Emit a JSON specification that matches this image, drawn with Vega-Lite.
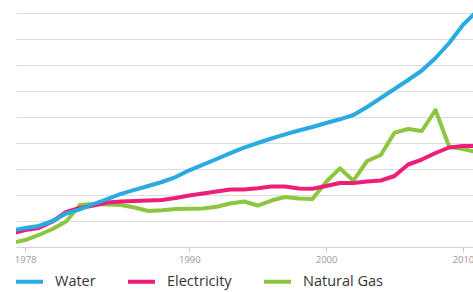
{
  "$schema": "https://vega.github.io/schema/vega-lite/v6.json",
  "width": 457,
  "height": 247,
  "autosize": {"type": "none"},
  "padding": {"left": 16, "top": 0, "right": 0, "bottom": 45},
  "background": "white",
  "config": {"view": {"stroke": null}},
  "data": {"values": [
    {"year":1977,"series":"Natural Gas","value":0.154},{"year":1978,"series":"Natural Gas","value":0.269},{"year":1979,"series":"Natural Gas","value":0.462},{"year":1980,"series":"Natural Gas","value":0.692},{"year":1981,"series":"Natural Gas","value":0.981},{"year":1982,"series":"Natural Gas","value":1.615},{"year":1983,"series":"Natural Gas","value":1.654},{"year":1984,"series":"Natural Gas","value":1.635},{"year":1985,"series":"Natural Gas","value":1.615},{"year":1986,"series":"Natural Gas","value":1.519},{"year":1987,"series":"Natural Gas","value":1.385},{"year":1988,"series":"Natural Gas","value":1.412},{"year":1989,"series":"Natural Gas","value":1.462},{"year":1990,"series":"Natural Gas","value":1.469},{"year":1991,"series":"Natural Gas","value":1.481},{"year":1992,"series":"Natural Gas","value":1.546},{"year":1993,"series":"Natural Gas","value":1.673},{"year":1994,"series":"Natural Gas","value":1.75},{"year":1995,"series":"Natural Gas","value":1.596},{"year":1996,"series":"Natural Gas","value":1.788},{"year":1997,"series":"Natural Gas","value":1.923},{"year":1998,"series":"Natural Gas","value":1.865},{"year":1999,"series":"Natural Gas","value":1.846},{"year":2000,"series":"Natural Gas","value":2.5},{"year":2001,"series":"Natural Gas","value":3.027},{"year":2002,"series":"Natural Gas","value":2.55},{"year":2003,"series":"Natural Gas","value":3.308},{"year":2004,"series":"Natural Gas","value":3.538},{"year":2005,"series":"Natural Gas","value":4.396},{"year":2006,"series":"Natural Gas","value":4.538},{"year":2007,"series":"Natural Gas","value":4.462},{"year":2008,"series":"Natural Gas","value":5.269},{"year":2009,"series":"Natural Gas","value":3.858},{"year":2010,"series":"Natural Gas","value":3.769},{"year":2011,"series":"Natural Gas","value":3.654},
    {"year":1977,"series":"Electricity","value":0.519},{"year":1978,"series":"Electricity","value":0.654},{"year":1979,"series":"Electricity","value":0.731},{"year":1980,"series":"Electricity","value":0.981},{"year":1981,"series":"Electricity","value":1.346},{"year":1982,"series":"Electricity","value":1.5},{"year":1983,"series":"Electricity","value":1.596},{"year":1984,"series":"Electricity","value":1.712},{"year":1985,"series":"Electricity","value":1.75},{"year":1986,"series":"Electricity","value":1.769},{"year":1987,"series":"Electricity","value":1.788},{"year":1988,"series":"Electricity","value":1.808},{"year":1989,"series":"Electricity","value":1.885},{"year":1990,"series":"Electricity","value":1.981},{"year":1991,"series":"Electricity","value":2.058},{"year":1992,"series":"Electricity","value":2.135},{"year":1993,"series":"Electricity","value":2.212},{"year":1994,"series":"Electricity","value":2.212},{"year":1995,"series":"Electricity","value":2.258},{"year":1996,"series":"Electricity","value":2.327},{"year":1997,"series":"Electricity","value":2.327},{"year":1998,"series":"Electricity","value":2.25},{"year":1999,"series":"Electricity","value":2.242},{"year":2000,"series":"Electricity","value":2.346},{"year":2001,"series":"Electricity","value":2.462},{"year":2002,"series":"Electricity","value":2.462},{"year":2003,"series":"Electricity","value":2.519},{"year":2004,"series":"Electricity","value":2.558},{"year":2005,"series":"Electricity","value":2.731},{"year":2006,"series":"Electricity","value":3.173},{"year":2007,"series":"Electricity","value":3.365},{"year":2008,"series":"Electricity","value":3.615},{"year":2009,"series":"Electricity","value":3.827},{"year":2010,"series":"Electricity","value":3.885},{"year":2011,"series":"Electricity","value":3.885},
    {"year":1977,"series":"Water","value":0.635},{"year":1978,"series":"Water","value":0.731},{"year":1979,"series":"Water","value":0.808},{"year":1980,"series":"Water","value":1.0},{"year":1981,"series":"Water","value":1.288},{"year":1982,"series":"Water","value":1.45},{"year":1983,"series":"Water","value":1.654},{"year":1984,"series":"Water","value":1.846},{"year":1985,"series":"Water","value":2.046},{"year":1986,"series":"Water","value":2.2},{"year":1987,"series":"Water","value":2.346},{"year":1988,"series":"Water","value":2.5},{"year":1989,"series":"Water","value":2.692},{"year":1990,"series":"Water","value":2.95},{"year":1991,"series":"Water","value":3.165},{"year":1992,"series":"Water","value":3.385},{"year":1993,"series":"Water","value":3.608},{"year":1994,"series":"Water","value":3.819},{"year":1995,"series":"Water","value":4.0},{"year":1996,"series":"Water","value":4.173},{"year":1997,"series":"Water","value":4.331},{"year":1998,"series":"Water","value":4.481},{"year":1999,"series":"Water","value":4.615},{"year":2000,"series":"Water","value":4.769},{"year":2001,"series":"Water","value":4.912},{"year":2002,"series":"Water","value":5.077},{"year":2003,"series":"Water","value":5.385},{"year":2004,"series":"Water","value":5.731},{"year":2005,"series":"Water","value":6.077},{"year":2006,"series":"Water","value":6.423},{"year":2007,"series":"Water","value":6.788},{"year":2008,"series":"Water","value":7.269},{"year":2009,"series":"Water","value":7.846},{"year":2010,"series":"Water","value":8.538},{"year":2011,"series":"Water","value":9.06}
  ]},
  "mark": {"type": "line", "strokeWidth": 4, "clip": true, "strokeJoin": "round"},
  "encoding": {
    "x": {
      "field": "year", "type": "quantitative",
      "scale": {"domain": [1977.33, 2010.74], "nice": false, "zero": false},
      "axis": {
        "title": null, "values": [1978, 1990, 2000, 2010], "format": "d",
        "grid": false, "domainColor": "#d4d4d4", "domainWidth": 1,
        "tickColor": "#c8c8c8", "tickSize": 5, "tickWidth": 1,
        "labelColor": "#999999", "labelFont": "Open Sans", "labelFontSize": 9.5,
        "labelPadding": 2, "labelFlush": false, "labelOverlap": false
      }
    },
    "y": {
      "field": "value", "type": "quantitative",
      "scale": {"domain": [0, 9.5], "nice": false, "zero": true},
      "axis": {
        "title": null, "values": [0,1,2,3,4,5,6,7,8,9],
        "labels": false, "ticks": false, "domain": false,
        "grid": true, "gridColor": "#dcdcdc", "gridWidth": 1
      }
    },
    "color": {
      "field": "series", "type": "nominal",
      "scale": {"domain": ["Water", "Electricity", "Natural Gas"], "range": ["#29abe2", "#ec1e79", "#8cc63f"]},
      "legend": {
        "title": null, "orient": "none", "direction": "horizontal",
        "legendX": -2, "legendY": 266,
        "symbolType": "stroke", "symbolStrokeWidth": 4, "symbolSize": 729,
        "labelFont": "Open Sans", "labelFontSize": 14.5, "labelColor": "#333333",
        "labelOffset": 10, "columnPadding": 24
      }
    }
  }
}
